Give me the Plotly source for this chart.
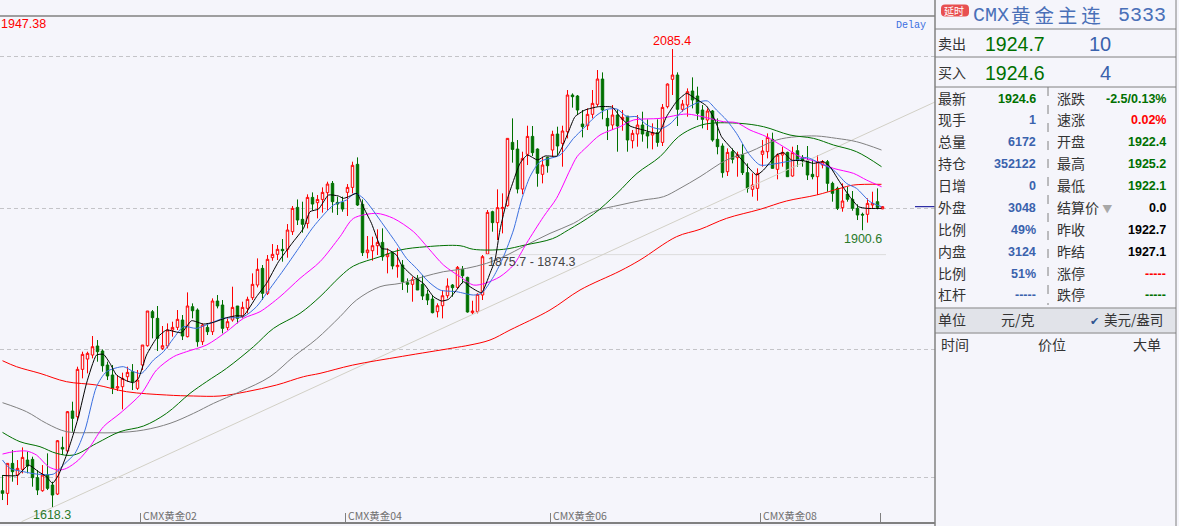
import plotly.graph_objects as go

opens = [1634.9,1632.2,1662.8,1650.9,1656.7,1666.2,1666.9,1648.2,1634.9,1650.9,
1640.7,1631.5,1679.1,1675.4,1716.2,1710.4,1758.7,1769.2,1773.3,1782.5,
1777.4,1763.1,1752.9,1739.6,1741.0,1751.2,1756.3,1739.3,1763.1,1782.8,
1817.5,1810.7,1780.1,1782.5,1798.8,1801.5,1809.0,1792.0,1822.6,1819.2,
1786.9,1801.5,1797.1,1828.4,1824.3,1801.2,1809.0,1823.3,1812.4,1820.9,
1831.8,1844.7,1861.7,1836.2,1872.6,1876.0,1881.1,1881.1,1899.1,1923.9,
1911.7,1907.6,1934.1,1928.7,1932.0,1938.9,1948.4,1929.0,1929.0,1939.2,
1944.3,1967.8,1927.0,1877.7,1879.7,1884.8,1888.2,1873.6,1877.0,1863.4,
1865.1,1847.1,1845.4,1851.5,1845.4,1835.5,1830.4,1817.5,1823.6,1833.8,
1844.7,1842.3,1860.7,1852.5,1816.5,1817.5,1834.5,1876.3,1919.5,1908.3,
1922.6,1925.6,1990.2,1983.4,1942.6,1978.0,1996.3,1983.4,1957.6,1974.9,
1982.4,1998.7,1989.2,2001.1,2038.5,2037.5,2008.9,2007.2,2018.8,2029.0,
2054.8,2014.7,2007.9,2018.1,2013.7,2017.0,1991.9,1998.7,2007.9,2000.4,
1997.7,2000.1,1990.2,2026.6,2054.5,2058.9,2023.9,2028.3,2042.6,2037.5,
2023.2,2013.0,2022.2,1993.3,1986.5,1960.3,1980.7,1974.6,1977.6,1959.3,
1942.3,1943.3,1978.0,1980.7,1993.3,1962.7,1977.3,1980.0,1955.9,1981.7,
1974.9,1971.5,1957.6,1955.2,1967.1,1970.5,1948.4,1943.3,1923.6,1937.5,
1932.1,1922.9,1916.8,1916.8,1926.3,1929.7,1922.4]
highs = [1650.9,1662.8,1676.4,1666.2,1679.1,1674.7,1669.6,1656.0,1661.1,1673.0,
1644.1,1686.6,1690.0,1716.2,1725.7,1761.4,1776.7,1776.7,1792.7,1788.6,
1779.1,1766.5,1763.1,1752.9,1755.3,1761.4,1764.1,1758.0,1783.5,1818.2,
1819.2,1823.3,1802.9,1805.6,1807.3,1819.2,1814.1,1837.2,1826.0,1820.9,
1805.6,1805.6,1831.1,1834.5,1829.4,1810.7,1843.0,1823.3,1827.7,1832.8,
1856.6,1871.9,1865.1,1875.3,1886.5,1885.5,1891.6,1906.9,1925.3,1932.0,
1929.7,1937.2,1939.2,1936.5,1944.3,1950.1,1950.8,1934.8,1934.8,1947.7,
1970.5,1974.9,1932.0,1894.7,1894.0,1901.5,1902.5,1882.1,1878.7,1882.1,
1870.2,1851.5,1853.2,1854.9,1854.9,1839.6,1834.5,1826.0,1839.6,1851.5,
1845.7,1864.1,1864.1,1853.2,1828.7,1836.2,1875.3,1921.2,1920.5,1942.3,
1938.2,1994.3,2014.7,1992.6,1980.7,2007.2,2006.9,1984.1,1975.6,1975.6,
2002.1,2006.2,2007.2,2043.6,2040.2,2038.5,2023.2,2024.9,2043.6,2064.0,
2061.6,2023.2,2028.3,2023.9,2023.2,2017.0,2002.8,2018.1,2021.5,2013.7,
2009.6,2013.7,2029.3,2050.4,2085.4,2061.6,2033.4,2045.3,2056.5,2047.0,
2028.3,2024.9,2023.2,2014.7,1989.2,1984.1,1984.1,1980.7,1988.5,1968.8,
1958.6,1963.7,1992.6,1999.4,2000.1,1979.0,1985.8,1980.7,1985.8,1987.5,
1977.3,1986.5,1972.2,1977.3,1972.2,1972.2,1950.1,1945.0,1948.4,1945.0,
1940.6,1927.0,1918.5,1933.1,1939.9,1943.3,1925.2]
lows = [1625.4,1620.3,1644.1,1640.7,1652.6,1652.6,1639.0,1630.5,1633.9,1635.6,
1618.3,1630.5,1671.3,1673.0,1695.1,1707.0,1749.5,1754.6,1769.9,1766.5,
1756.3,1747.8,1733.5,1736.6,1717.9,1746.1,1737.6,1737.6,1758.0,1781.8,
1790.3,1777.4,1778.4,1780.1,1792.0,1798.8,1788.6,1791.3,1810.7,1781.8,
1783.5,1793.7,1793.7,1820.9,1795.4,1798.8,1807.3,1805.6,1810.7,1815.8,
1829.4,1842.3,1829.4,1834.5,1869.5,1870.2,1868.5,1872.6,1895.7,1905.9,
1898.1,1902.5,1921.2,1912.7,1918.5,1921.2,1918.5,1916.1,1919.5,1915.1,
1938.2,1925.3,1874.3,1871.9,1869.5,1875.3,1869.5,1856.6,1860.7,1852.2,
1839.6,1836.9,1827.7,1839.6,1829.4,1824.3,1815.8,1811.7,1810.7,1831.1,
1832.8,1840.6,1846.4,1816.5,1815.1,1815.8,1829.4,1875.3,1899.1,1890.6,
1897.4,1924.6,1969.5,1938.2,1937.2,1967.1,1976.3,1945.0,1948.4,1959.3,
1975.6,1977.3,1965.4,1994.3,2025.6,2018.1,1995.3,2002.8,2014.7,2026.6,
2013.7,1992.6,2002.8,1980.7,2002.1,1980.7,1984.1,1985.8,1990.9,1984.1,
1983.1,1985.8,1986.5,2024.9,2038.5,2006.9,2021.5,2016.4,2024.9,2013.0,
2004.5,2002.8,1990.9,1978.0,1954.2,1955.9,1968.8,1955.2,1956.9,1938.9,
1934.8,1930.7,1965.4,1973.9,1963.7,1952.5,1965.4,1955.2,1955.2,1965.4,
1965.4,1951.8,1952.5,1936.5,1963.7,1939.9,1929.7,1921.2,1919.5,1929.7,
1920.5,1911.0,1900.6,1908.3,1922.9,1921.9,1922.1]
closes = [1632.2,1662.8,1654.3,1657.7,1668.9,1660.1,1648.2,1635.6,1650.9,1637.3,
1630.5,1685.9,1677.4,1715.5,1708.7,1758.7,1774.0,1775.0,1781.8,1776.7,
1762.4,1751.9,1739.3,1741.0,1749.5,1755.6,1746.1,1747.8,1783.5,1818.2,
1811.4,1790.3,1782.8,1798.8,1801.5,1809.7,1792.7,1823.3,1818.5,1786.9,
1803.9,1797.1,1828.4,1823.3,1800.5,1807.3,1821.9,1810.7,1821.9,1830.1,
1845.4,1860.7,1836.2,1870.9,1876.0,1881.1,1879.7,1900.8,1922.9,1911.0,
1906.6,1934.1,1927.3,1932.0,1939.2,1947.7,1929.7,1927.3,1922.2,1944.3,
1966.8,1926.3,1877.7,1880.4,1884.8,1888.2,1873.6,1876.3,1864.1,1864.8,
1848.1,1845.4,1850.5,1839.6,1833.5,1829.4,1816.5,1823.6,1833.8,1843.7,
1842.0,1862.7,1854.2,1817.2,1818.2,1835.2,1873.6,1918.8,1908.3,1923.6,
1923.9,1994.3,1983.0,1942.6,1973.9,1996.3,1979.7,1958.6,1967.1,1966.4,
1998.4,1986.5,2001.8,2038.5,2036.8,2023.2,2006.2,2018.8,2030.0,2054.8,
2023.2,2006.9,2018.1,2006.9,2015.7,1992.6,1999.4,2007.9,1998.7,1996.7,
2000.1,1990.2,2025.9,2049.7,2058.9,2023.9,2029.3,2041.9,2033.4,2019.8,
2013.7,2022.2,1992.6,1985.8,1959.3,1980.0,1972.9,1977.6,1959.3,1943.3,
1946.7,1958.6,1981.4,1995.3,1963.7,1977.3,1980.0,1955.2,1979.7,1972.2,
1971.5,1956.9,1955.2,1970.5,1970.5,1948.4,1938.2,1922.9,1930.4,1932.1,
1922.9,1916.1,1916.1,1928.0,1928.0,1923.9,1924.6]

ma5_x = [0,3,5.2,7.2,8.8,10,11.2,12.8,13.8,15.2,16.8,18.8,20.2,21.5,22.8,24.8,26.2,27.2,28.8,30.8,32.8,35.8,37.8,40.2,42.2,44.8,46.8,48.2,50.8,52.8,55.2,57.9,60.2,61.5,63.2,65.2,67.2,68.2,69.2,70.9,72,73.8,75.8,77,78.8,79.8,82.2,84.2,86.2,87.8,89.2,90.8,92.2,93.5,95.8,97.5,98.5,99.5,100.9,101.9,103.5,105,107,108.5,110.9,111.9,113.2,114.5,116.5,119.2,122,123.5,125.5,128.2,131.2,132.8,134.8,136.8,138.5,140.8,142.5,143.8,145.8,148.2,150.8,152.2,154.8,156.2,157.8,160.2,162.2,164.2,165.5,167.2,169.2,171.2,172.8,175.8]
ma5 = [1650.5,1650.5,1661.1,1654.3,1649.2,1642.4,1650.9,1671.3,1686.6,1710.4,1744.4,1773.3,1774.0,1764.8,1752.9,1747.1,1745.1,1749.5,1773.3,1790.3,1798.8,1796.1,1808.3,1804.9,1806.6,1811.4,1813.4,1813.4,1832.8,1846.4,1868.5,1887.2,1902.5,1919.5,1922.2,1936.5,1935.5,1933.1,1934.8,1938.2,1926.0,1907.6,1882.1,1881.1,1875.3,1865.1,1853.2,1846.4,1832.8,1828.4,1830.1,1839.6,1848.1,1843.0,1836.9,1856.6,1870.2,1901.0,1931.4,1946.7,1968.8,1977.3,1972.2,1976.3,1976.3,1985.1,2001.1,2016.4,2023.2,2026.6,2026.0,2016.4,2006.9,2002.8,1999.4,2016.4,2031.7,2040.2,2035.1,2027.3,2013.0,1996.0,1984.1,1970.5,1956.9,1962.0,1977.3,1979.7,1972.2,1971.5,1968.8,1970.5,1965.4,1951.8,1936.5,1924.6,1922.9,1922.9]

ma10_x = [0,1.5,4.2,6.8,10.2,12.5,14.5,16.5,18.8,20.8,24.2,26.2,27.8,30.2,32.2,34.2,36.2,38.8,41.5,44.2,48.2,50.8,52.8,56.2,59.2,62.2,66.2,68.8,70.5,72.2,76.2,78.8,80.8,82.8,85.2,87.5,90.8,94.2,95.8,98.2,100.2,102.2,103.8,105.5,107.5,111.5,114.2,116.2,118.9,120.9,122.9,124.9,126.9,128.9,131.5,133.5,136.2,139.5,141,142.8,144.8,146.8,149.2,151.5,154.2,156.8,158.8,160.8,163.5,166.2,168.8,170.8,173.5,175.8]
ma10 = [1666.2,1657.7,1654.3,1651.9,1651.9,1662.8,1673.0,1696.8,1741.0,1756.3,1761.4,1756.3,1754.6,1768.2,1776.7,1790.3,1802.2,1800.5,1805.6,1810.7,1812.4,1822.6,1836.2,1860.0,1882.0,1904.2,1926.3,1931.4,1938.2,1933.1,1905.9,1887.2,1871.9,1861.7,1848.1,1839.6,1837.9,1834.5,1836.2,1853.2,1873.6,1900.8,1931.4,1955.2,1970.5,1977.3,1994.3,2004.5,2018.1,2023.9,2024.2,2016.4,2016.4,2007.9,2003.8,2009.0,2023.2,2031.7,2032.4,2023.2,2013.0,1999.4,1979.0,1967.1,1968.1,1970.5,1972.2,1974.9,1968.8,1962.0,1948.4,1943.3,1929.7,1924.6]

ma20_x = [0,2.2,4.8,6.8,9.2,11.2,12.8,15.2,17.5,20.2,23.5,27.8,30.8,34.2,36.8,40.8,44.8,48.2,51.5,55.5,59.5,63.5,67.5,70.2,74.8,78.2,82.2,85.2,88.2,91.5,94.2,96.5,99.5,102.2,104.8,108.2,110.8,113.5,114.9,116.9,119.5,123.5,126.2,131.5,136.8,140.8,144.2,146.8,149.5,152.8,156.2,159.5,162.8,166.2,170.2,172.8,175.8]
ma20 = [1672.3,1674.7,1675.4,1671.3,1659.4,1656.0,1657.7,1666.2,1679.8,1700.2,1713.8,1734.2,1758.0,1771.6,1776.7,1783.5,1797.1,1810.7,1817.5,1832.8,1851.5,1868.5,1894.0,1912.7,1917.8,1912.7,1899.1,1882.1,1865.1,1853.2,1844.7,1846.4,1853.2,1865.1,1887.2,1914.4,1933.1,1962.0,1975.6,1985.8,1997.7,2006.2,2013.0,2014.7,2019.1,2015.4,2011.3,2010.3,2002.8,1996.0,1985.8,1975.6,1970.5,1963.7,1958.6,1951.8,1945.0]

ma40_x = [0,3.5,7.5,10.8,14.2,18.8,23.5,28.2,32.8,37.5,40.8,44.8,50.2,54.2,59.5,63.5,67.5,70.2,75.5,79.5,84.8,91.5,94.2,100.2,104.5,110,113.2,118.2,122.9,126.9,131.5,135.2,138.8,141.5,147.5,152.2,157.5,162.2,166.2,170.8,175.8]
ma40 = [1694.4,1684.9,1679.8,1673.0,1671.3,1683.2,1695.1,1700.9,1713.8,1734.2,1746.1,1759.7,1781.8,1800.5,1815.8,1832.8,1853.2,1864.1,1873.6,1880.4,1883.8,1884.8,1881.1,1881.1,1885.5,1892.0,1901.0,1917.0,1938.2,1958.6,1975.6,1996.0,2006.2,2009.6,2009.6,2006.2,1997.7,1994.3,1987.5,1980.7,1965.4]

ma60_x = [0,4.8,8.8,12.8,18.2,22.8,28.2,33.5,38.2,42.2,47.5,53.5,58.2,62.8,67.5,70.8,75.5,79.5,84.2,88.2,92.8,96.8,100.2,104.8,109.5,114.2,118.2,123.5,128.2,132.2,135.5,139.5,144.8,149.5,154.8,158.8,162.8,166.8,170.8,175.8]
ma60 = [1724.7,1715.5,1703.6,1695.1,1694.1,1694.1,1696.8,1703.6,1713.8,1724.0,1735.9,1751.2,1771.6,1789.6,1812.4,1829.4,1843.0,1846.4,1853.2,1858.3,1861.7,1866.8,1873.6,1885.5,1897.4,1907.6,1919.5,1926.3,1931.4,1934.8,1943.3,1955.2,1972.2,1980.7,1992.6,1996.0,1996.7,1994.3,1990.9,1982.4]

ma120_x = [0,2.8,7.5,12.8,18.8,24.8,32.8,38.2,43.5,48.8,54.8,60.2,63.5,70,80,90,93.5,97.5,101.5,109.5,115.5,123.5,127.5,134.8,139.5,144.8,151.5,156.8,162.8,167.5,170.2,175.8]
ma120 = [1767.5,1761.4,1754.6,1746.1,1742.7,1735.9,1732.5,1731.5,1731.5,1735.9,1742.7,1751.2,1754.6,1763.0,1772.0,1780.4,1783.5,1788.6,1798.8,1819.2,1839.6,1859.0,1870.2,1894.0,1901.5,1912.7,1921.9,1930.4,1936.5,1943.3,1946.7,1947.4]

trend_x = [3.8, 186.5]
trend = [1603.3, 2031.4]
gap_x = [96.5, 176.7]
gap = [1875.7, 1875.7]
last_x = [182.5, 186.5]
last_price = [1924.6, 1924.6]

grid_vals = [2077.3, 1923.2, 1779.4, 1648.9]
tick_pos = [27.5, 68.5, 109.5, 151.5, 175.5]
tick_names = ["CMX黄金02", "CMX黄金04", "CMX黄金06", "CMX黄金08"]

left_labels = ["最新","现手","总量","持仓","日增","外盘","比例","内盘","比例","杠杆"]
left_values = ["1924.6","1","6172","352122","0","3048","49%","3124","51%","-----"]
right_labels = ["涨跌","速涨","开盘","最高","最低","结算价 <span style='color:#a8a8a8;font-size:10px'>▼</span>","昨收","昨结","涨停","跌停"]
right_values = ["-2.5/0.13%","0.02%","1922.4","1925.2","1922.1","0.0","1922.7","1927.1","-----","-----"]
header_name = "黄\u2009金\u2009主\u2009连"
header_code = "5333"

BG = "#f5f5fb"
GREEN = "#007000"
BLUE = "#3a62ad"
left_colors = [GREEN] + [BLUE]*9
right_colors = [GREEN,"#ff0000",GREEN,GREEN,GREEN,"#000000","#000000","#000000","#ff0000",GREEN]
row_y = [99,119.5,142,164,186,208,229.5,252,274,295]

PLOT_W, TOP, BOTTOM = 935, 16, 522
def X(px): return px / PLOT_W
def Y(py): return (BOTTOM - py) / (BOTTOM - TOP)

CJK = "Noto Sans CJK SC"
NUM = "Liberation Sans"
anns, shapes = [], []

def text(px, py, s, color="#333333", size=14, family=CJK, anchor="left"):
    if family == CJK:
        px -= 1
        py -= 1
    anns.append(dict(xref="paper", yref="paper", x=X(px), y=Y(py), text=s, showarrow=False,
                     xanchor=anchor, yanchor="middle", borderpad=0,
                     font=dict(color=color, size=size, family=family)))

def line(x0, y0, x1, y1, color="#808080", width=1, dash="solid"):
    shapes.append(dict(type="line", xref="paper", yref="paper", x0=X(x0), y0=Y(y0), x1=X(x1), y1=Y(y1),
                       line=dict(color=color, width=width, dash=dash)))

fig = go.Figure()
fig.add_trace(go.Candlestick(x=list(range(len(opens))), open=opens, high=highs, low=lows, close=closes,
    increasing=dict(line=dict(color="#ff0000", width=1), fillcolor=BG),
    decreasing=dict(line=dict(color=GREEN, width=1), fillcolor=GREEN),
    whiskerwidth=0, hoverinfo="skip", showlegend=False))

def add_line(x, y, color, smooth=0.0):
    ln = dict(color=color, width=1)
    if smooth:
        ln.update(shape="spline", smoothing=smooth)
    fig.add_trace(go.Scatter(x=x, y=y, mode="lines", line=ln, hoverinfo="skip", showlegend=False))

add_line(gap_x, gap, "#dcdcdc")
add_line(trend_x, trend, "#d2d0c6")
add_line(ma120_x, ma120, "#ff0000", 1.0)
add_line(ma60_x, ma60, "#808080", 1.0)
add_line(ma40_x, ma40, "#007000", 1.0)
add_line(ma20_x, ma20, "#ff00ff", 0.8)
add_line(ma10_x, ma10, "#3a6fe0", 0.7)
add_line(ma5_x, ma5, "#000000", 0.5)
add_line(last_x, last_price, "#000090")

# chart labels
text(0, 24, "1947.38", "#ff0000", 12.5, NUM)
text(895, 25, "Delay", "#3a6fe0", 10, "Liberation Mono")
text(672, 41, "2085.4", "#ff0000", 12.5, NUM, "center")
text(52, 515, "1618.3", "#2a7a2a", 12.5, NUM, "center")
text(862.5, 239, "1900.6", "#2a7a2a", 12.5, NUM, "center")
text(487, 262, "1875.7 - 1874.3", "#444444", 12.5, NUM)
for t, name in zip(tick_pos, tick_names):
    anns.append(dict(xref="x", yref="paper", x=t, y=Y(515), text=name, showarrow=False, xanchor="left",
                     yanchor="middle", xshift=2, borderpad=0,
                     font=dict(color="#707070", size=10.5, family=CJK)))

# side panel frame
line(935, 0, 935, 526, "#808080", 1.5)
line(1176, 0, 1176, 526, "#808080", 1)
for py in (29, 57, 87, 333):
    line(935, py, 1176, py, "#808080", 1)
line(935, 308, 1176, 308, "#808080", 1)
line(1048, 87, 1048, 305, "#808080", 1, "dash")
shapes.append(dict(type="rect", xref="paper", yref="paper", x0=X(936), x1=X(1175.5), y0=Y(308.5), y1=Y(332.5),
                   fillcolor="#e1e3e9", line=dict(width=0), layer="below"))
bx0, bx1, by0, by1, br = X(941), X(969), Y(16.5), Y(4.5), 4
rx, ry = br / PLOT_W, br / (BOTTOM - TOP)
shapes.append(dict(type="path", xref="paper", yref="paper",
    path=(f"M {bx0+rx} {by0} L {bx1-rx} {by0} Q {bx1} {by0} {bx1} {by0+ry} L {bx1} {by1-ry} "
          f"Q {bx1} {by1} {bx1-rx} {by1} L {bx0+rx} {by1} Q {bx0} {by1} {bx0} {by1-ry} "
          f"L {bx0} {by0+ry} Q {bx0} {by0} {bx0+rx} {by0} Z"),
    fillcolor="#e85050", line=dict(width=0)))

# side panel header
text(955, 11.5, "延时", "#ffffff", 10, CJK, "center")
text(972, 15, "CMX", "#4a70b8", 20, "Liberation Mono")
text(1011, 15.5, header_name, "#4a70b8", 19.5, CJK)
text(1117, 15, header_code, "#4a70b8", 20, "Liberation Mono")
text(938, 44, "卖出"); text(938, 73, "买入")
text(1046, 44, "1924.7", GREEN, 19.5, NUM, "right")
text(1046, 73, "1924.6", GREEN, 19.5, NUM, "right")
text(1112, 44, "10", BLUE, 20, NUM, "right")
text(1112, 73, "4", BLUE, 20, NUM, "right")

# side panel quote rows
for y, ll, lv, lc, rl, rv, rc in zip(row_y, left_labels, left_values, left_colors, right_labels, right_values, right_colors):
    text(938, y, ll)
    text(1037, y, f"<b>{lv}</b>", lc, 12.5, NUM, "right")
    text(1057, y, rl)
    text(1167, y, f"<b>{rv}</b>", rc, 12.5, NUM, "right")

text(938, 320, "单位")
text(1019, 320, "元/克", "#333333", 14, CJK, "center")
text(1094, 321, "✔", "#2f5590", 11, "DejaVu Sans", "center")
text(1104, 320, "美元/盎司", "#333333", 13.5)
text(941, 345, "时间"); text(1038, 345, "价位"); text(1133, 345, "大单")

shapes.append(dict(type="line", xref="paper", yref="paper", x0=0, x1=1, y0=1, y1=1, line=dict(color="#808080", width=1.5)))

fig.update_layout(
    width=1179, height=526, autosize=False,
    margin=dict(l=0, r=244, t=TOP, b=526 - BOTTOM, pad=0),
    paper_bgcolor=BG, plot_bgcolor=BG, showlegend=False, boxgap=0.3,
    annotations=anns, shapes=shapes,
    xaxis=dict(range=[-0.5, 186.5], rangeslider=dict(visible=False), showgrid=False, zeroline=False,
               tickmode="array", tickvals=tick_pos, ticktext=[""]*len(tick_pos), ticks="inside", ticklen=9,
               tickcolor="#808080", tickwidth=1, showline=True, linecolor="#808080", linewidth=1.5),
    yaxis=dict(range=[1603.0, 2119.1], tickmode="array", tickvals=grid_vals, showticklabels=False,
               ticks="", showgrid=True, gridcolor="#c4c4c8", griddash="4px,3px", gridwidth=1, zeroline=False,
               showline=False),
)

fig.write_html("out.html", config={"displayModeBar": False, "staticPlot": True},
               post_script="document.body.style.margin='0';document.body.style.overflow='hidden';document.documentElement.style.overflow='hidden';")
